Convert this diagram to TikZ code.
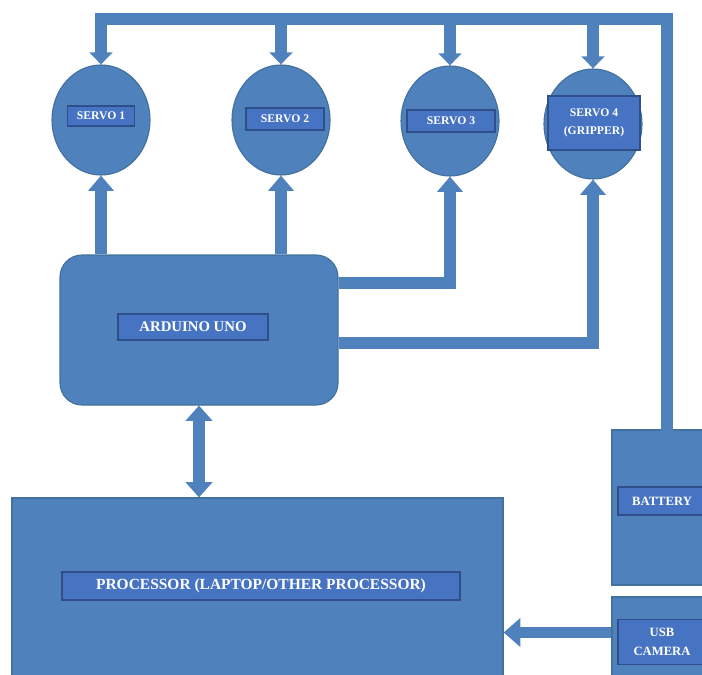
\documentclass[tikz,border=0pt]{standalone}
\usepackage{fontspec}
\setmainfont{Liberation Serif}
\usetikzlibrary{arrows.meta,calc,shapes.geometric,positioning}
\definecolor{blockblue}{HTML}{4F81BD}
\definecolor{blockedge}{HTML}{41719C}
\definecolor{tagblue}{HTML}{4673C2}
\definecolor{tagedge}{HTML}{2F4F8A}
\newcommand{\pxl}{0.025cm}
\tikzset{block/.style={draw=blockedge,fill=blockblue,line width=0.8pt,inner sep=0},
	servo/.style={block,ellipse,minimum width=98*\pxl,minimum height=110*\pxl},
	tag/.style={draw=tagedge,fill=tagblue,line width=1pt,text=white,inner sep=0,align=center,font=\bfseries\fontsize{8.3}{13}\selectfont},
	pipe/.style={draw=blockblue,line width=0.28cm,line join=miter}}

\begin{document}
\begin{tikzpicture}[x=\pxl,y=-\pxl]
	\useasboundingbox (0,0) rectangle (702,675);
	\clip (0,0) rectangle (702,675);
	
	\node[servo] (servo1) at (101,120) {};
	\node[servo] (servo2) at (281,120) {};
	\node[servo] (servo3) at (450,121) {};
	\node[servo] (servo4) at (593,124) {};
	
	\node[block,rounded corners=0.55cm,minimum width=278*\pxl,minimum height=150*\pxl] (arduino) at (199,330) {};
	\node[block,minimum width=491*\pxl,minimum height=192*\pxl] (processor) at (257.5,594) {};
	\node[block,minimum width=94*\pxl,minimum height=155*\pxl] (battery) at (659,507.5) {};
	\node[block,minimum width=94*\pxl,minimum height=93*\pxl] (camera) at (659,643.5) {};
	
	\node[tag,minimum width=67*\pxl,minimum height=20*\pxl] (s1) at (101,116) {SERVO 1};
	\node[tag,minimum width=78*\pxl,minimum height=22*\pxl] (s2) at (285,119) {SERVO 2};
	\node[tag,minimum width=88*\pxl,minimum height=22*\pxl] (s3) at (451,121) {SERVO 3};
	\node[tag,minimum width=92*\pxl,minimum height=54*\pxl] (s4) at (594,123) {SERVO 4\\(GRIPPER)};
	\node[tag,minimum width=150*\pxl,minimum height=26*\pxl,font=\bfseries\fontsize{10.5}{12}\selectfont] (ard) at (193,327) {ARDUINO UNO};
	\node[tag,minimum width=398*\pxl,minimum height=28*\pxl,font=\bfseries\fontsize{11}{12}\selectfont] (proc) at (261,586) {PROCESSOR (LAPTOP/OTHER PROCESSOR)};
	\node[tag,minimum width=88*\pxl,minimum height=28*\pxl,font=\bfseries\fontsize{9}{12}\selectfont] (batt) at (662,501) {BATTERY};
	\node[tag,minimum width=88*\pxl,minimum height=45*\pxl,font=\bfseries\fontsize{9}{13}\selectfont] (cam) at (662,642) {USB\\CAMERA};
	
	% power bus
	\coordinate (busend) at (667,19);
	\draw[pipe,line cap=rect] (battery.north -| busend) -- (busend) -- (servo1.north |- busend);
	\foreach \s in {servo1,servo2,servo3,servo4}
	\draw[pipe,arrows={-Triangle[width=0.56cm,length=0.3cm]}] (\s.north |- busend) -- (\s.north);
	
	% signals
	\draw[pipe,arrows={-Triangle[width=0.62cm,length=0.38cm]}] (arduino.north -| servo1) -- (servo1.south);
	\draw[pipe,arrows={-Triangle[width=0.62cm,length=0.38cm]}] (arduino.north -| servo2) -- (servo2.south);
	\draw[pipe,arrows={-Triangle[width=0.62cm,length=0.38cm]}] ($(arduino.east)+(0,-47)$) -| (servo3.south);
	\draw[pipe,arrows={-Triangle[width=0.62cm,length=0.38cm]}] ($(arduino.east)+(0,13)$) -| (servo4.south);
	\draw[pipe,arrows={Triangle[width=0.65cm,length=0.38cm]-Triangle[width=0.65cm,length=0.38cm]}] (arduino.south) -- (arduino.south |- processor.north);
	\coordinate (camin) at ($(camera.west)+(0,-11)$);
	\draw[pipe,arrows={-Triangle[width=0.7cm,length=0.42cm]}] (camin) -- (camin -| processor.east);
\end{tikzpicture}
\end{document}
